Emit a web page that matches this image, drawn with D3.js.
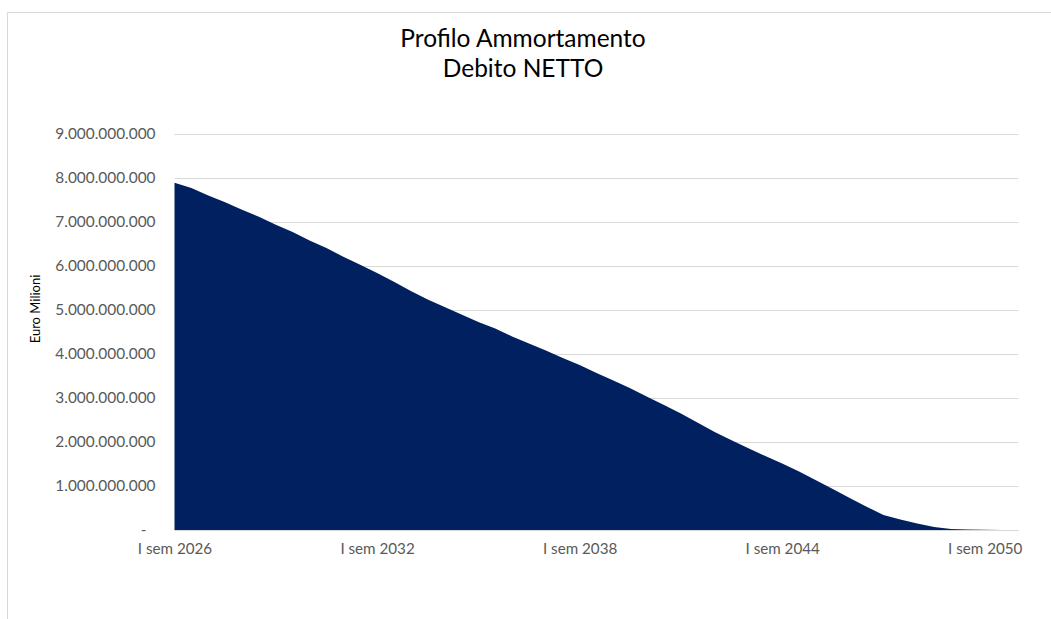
<!DOCTYPE html>
<html>
<head>
<meta charset="utf-8">
<script src="https://cdn.jsdelivr.net/npm/d3@7"></script>
<style>
  html, body { margin: 0; padding: 0; background: #fff; }
  svg text { font-family: Lato, "Open Sans", sans-serif; }
</style>
</head>
<body>
<div id="chart"></div>
<script>

// Semesters, I sem 2026 .. I sem 2051
var categories = [
    "I sem 2026", "II sem 2026", "I sem 2027", "II sem 2027", "I sem 2028", "II sem 2028",
    "I sem 2029", "II sem 2029", "I sem 2030", "II sem 2030", "I sem 2031", "II sem 2031",
    "I sem 2032", "II sem 2032", "I sem 2033", "II sem 2033", "I sem 2034", "II sem 2034",
    "I sem 2035", "II sem 2035", "I sem 2036", "II sem 2036", "I sem 2037", "II sem 2037",
    "I sem 2038", "II sem 2038", "I sem 2039", "II sem 2039", "I sem 2040", "II sem 2040",
    "I sem 2041", "II sem 2041", "I sem 2042", "II sem 2042", "I sem 2043", "II sem 2043",
    "I sem 2044", "II sem 2044", "I sem 2045", "II sem 2045", "I sem 2046", "II sem 2046",
    "I sem 2047", "II sem 2047", "I sem 2048", "II sem 2048", "I sem 2049", "II sem 2049",
    "I sem 2050", "II sem 2050", "I sem 2051"
];

// Debito netto residuo (euro)
var debito = [
    7890000000, 7770000000, 7600000000, 7450000000, 7280000000, 7120000000,
    6940000000, 6770000000, 6580000000, 6410000000, 6210000000, 6030000000,
    5840000000, 5640000000, 5430000000, 5240000000, 5070000000, 4900000000,
    4730000000, 4580000000, 4400000000, 4240000000, 4080000000, 3910000000,
    3750000000, 3570000000, 3400000000, 3220000000, 3030000000, 2840000000,
    2650000000, 2440000000, 2230000000, 2040000000, 1860000000, 1680000000,
    1510000000, 1330000000, 1130000000, 930000000, 730000000, 530000000,
    340000000, 240000000, 150000000, 70000000, 20000000, 10000000,
    5000000, 2000000, 0
];

var yTicks = [0, 1e9, 2e9, 3e9, 4e9, 5e9, 6e9, 7e9, 8e9, 9e9];
var xLabels = ["I sem 2026", "I sem 2032", "I sem 2038", "I sem 2044", "I sem 2050"];

var titleLines = ["Profilo Ammortamento", "Debito NETTO"];
var yTitle = "Euro Milioni";

const width = 1051, height = 619;
const margin = { top: 134, right: 32.5, bottom: 89, left: 174.5 };

var svg = d3.select("#chart").append("svg")
    .attr("width", width)
    .attr("height", height);

// chart border
svg.append("path")
    .attr("d", `M7.5,${height} V12.5 H${width}`)
    .attr("fill", "none")
    .attr("stroke", "#d9d9d9");

var xScale = d3.scalePoint()
    .domain(categories)
    .range([margin.left, width - margin.right]);

var yScale = d3.scaleLinear()
    .domain([0, 9e9])
    .range([height - margin.bottom, margin.top]);

var it = d3.formatLocale({ decimal: ",", thousands: ".", grouping: [3], currency: ["€", ""] });
var fmt = it.format(",.0f");

// gridlines + y labels
var yAxis = d3.axisLeft(yScale)
    .tickValues(yTicks)
    .tickSize(-(width - margin.right - margin.left))
    .tickPadding(19)
    .tickFormat(d => d === 0 ? "-" : fmt(d));

var gy = svg.append("g")
    .attr("transform", `translate(${margin.left},0)`)
    .call(yAxis);
gy.select(".domain").remove();
gy.selectAll(".tick line").attr("stroke", "#d9d9d9");
gy.selectAll(".tick text")
    .attr("fill", "#595959")
    .style("font-size", "15.4px")
    .attr("dx", d => d === 0 ? -9 : 0);

// area
var area = d3.area()
    .x((d, i) => xScale(categories[i]))
    .y0(yScale(0))
    .y1(d => yScale(d));

svg.append("path")
    .datum(debito)
    .attr("d", area)
    .attr("fill", "#002060");

// x axis
var xAxis = d3.axisBottom(xScale)
    .tickValues(xLabels)
    .tickSize(0)
    .tickPadding(13);

var gx = svg.append("g")
    .attr("transform", `translate(0,${yScale(0)})`)
    .call(xAxis);
gx.select(".domain")
    .attr("stroke", "#d9d9d9")
    .attr("d", `M${margin.left},0.5H${width - margin.right}`);
gx.selectAll(".tick text")
    .attr("fill", "#595959")
    .style("font-size", "15.2px");

// title
svg.append("text")
    .attr("x", 523)
    .attr("y", 47)
    .attr("text-anchor", "middle")
    .style("font-size", "24.5px")
    .attr("fill", "#000")
    .selectAll("tspan")
    .data(titleLines)
    .enter().append("tspan")
    .attr("x", 523)
    .attr("dy", (d, i) => i === 0 ? 0 : 29.5)
    .text(d => d);

// y axis title
svg.append("text")
    .attr("transform", "translate(40,309) rotate(-90)")
    .attr("text-anchor", "middle")
    .style("font-size", "13px")
    .attr("fill", "#000")
    .text(yTitle);

</script>
</body>
</html>
